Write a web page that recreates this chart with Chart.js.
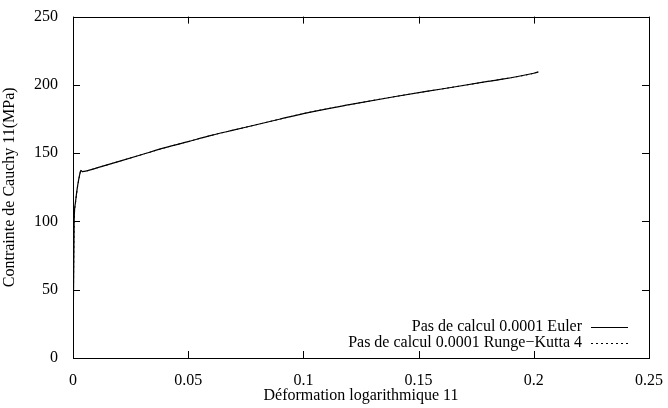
<!DOCTYPE html>
<html>
<head>
<meta charset="utf-8">
<script src="https://cdn.jsdelivr.net/npm/chart.js@4"></script>
<style>
body { margin: 0; background: #fff; }
#wrap { width: 668px; height: 408px; }
</style>
</head>
<body>
<div id="wrap"><canvas id="curve"></canvas></div>
<script>
//Data
var strainEuler = [0, 0.0005, 0.001, 0.0015, 0.002, 0.0025, 0.003, 0.0034, 0.004, 0.006, 0.01, 0.02, 0.03, 0.04, 0.05, 0.06, 0.07, 0.08, 0.09, 0.1, 0.12, 0.14, 0.16, 0.18, 0.2, 0.202];
var stressEuler = [0, 100, 113, 120, 126, 131, 135, 137.5, 136.5, 137, 139, 144, 149, 154, 158.5, 163, 167, 171, 175, 179, 185.5, 191.5, 197, 202.5, 208.5, 209.5];
var strainRK = [0, 0.0005, 0.001, 0.0015, 0.002, 0.0025, 0.003, 0.0034, 0.004, 0.006, 0.01, 0.02, 0.03, 0.04, 0.05, 0.06, 0.07, 0.08, 0.09, 0.1, 0.12, 0.14, 0.16, 0.18, 0.2, 0.202];
var stressRK = [0, 97, 112, 119.5, 125.5, 130.5, 134.5, 137.5, 136.5, 137, 139, 144, 149, 154, 158.5, 163, 167, 171, 175, 179, 185.5, 191.5, 197, 202.5, 208.5, 209.5];
var labelEuler = 'Pas de calcul 0.0001 Euler';
var labelRK = 'Pas de calcul 0.0001 Runge\u2212Kutta 4';

function toPoints(xs, ys) {
	var pts = [];
	for (var i = 0; i < xs.length; i++) {
		pts.push({x: xs[i], y: ys[i]});
	}
	return pts;
}

var FONT = '"Liberation Serif", "DejaVu Serif", serif';
var FSIZE = 16;

//gnuplot-like frame, inward ticks and key
var gnuplotLook = {
	id: 'gnuplotLook',
	afterDraw: function(chart) {
		var ctx = chart.ctx;
		var a = chart.chartArea;
		var xs = chart.scales.x, ys = chart.scales.y;
		var tl = 7;
		ctx.save();
		ctx.strokeStyle = '#000';
		ctx.lineWidth = 1;
		ctx.strokeRect(Math.round(a.left) + 0.5, Math.round(a.top) + 0.5, Math.round(a.right - a.left), Math.round(a.bottom - a.top));
		ctx.beginPath();
		xs.ticks.forEach(function(t) {
			var px = Math.round(xs.getPixelForValue(t.value)) + 0.5;
			ctx.moveTo(px, a.bottom); ctx.lineTo(px, a.bottom - tl);
			ctx.moveTo(px, a.top); ctx.lineTo(px, a.top + tl);
		});
		ys.ticks.forEach(function(t) {
			var py = Math.round(ys.getPixelForValue(t.value)) + 0.5;
			ctx.moveTo(a.left, py); ctx.lineTo(a.left + tl, py);
			ctx.moveTo(a.right, py); ctx.lineTo(a.right - tl, py);
		});
		ctx.stroke();

		//key, bottom right inside the frame
		ctx.font = FSIZE + 'px ' + FONT;
		ctx.textAlign = 'right';
		ctx.textBaseline = 'middle';
		ctx.fillStyle = '#000';
		var lineEnd = a.right - 21, lineStart = lineEnd - 37, textEnd = lineStart - 9;
		var rowY = [a.bottom - 31, a.bottom - 15];
		chart.data.datasets.forEach(function(ds, i) {
			ctx.fillText(ds.label, textEnd, rowY[i]);
			ctx.beginPath();
			ctx.setLineDash(ds.borderDash || []);
			ctx.lineWidth = ds.borderWidth;
			ctx.moveTo(lineStart, Math.round(rowY[i]) + 0.5);
			ctx.lineTo(lineEnd, Math.round(rowY[i]) + 0.5);
			ctx.stroke();
		});
		ctx.restore();
	}
};

var curvechart = new Chart(document.getElementById('curve'), {
	type: 'scatter',
	data: {
		datasets: [{
			label: labelEuler,
			data: toPoints(strainEuler, stressEuler),
			showLine: true,
			pointRadius: 0,
			borderColor: '#000',
			borderWidth: 1.2,
			cubicInterpolationMode: 'monotone'
		},{
			label: labelRK,
			data: toPoints(strainRK, stressRK),
			showLine: true,
			pointRadius: 0,
			borderColor: '#000',
			borderWidth: 1,
			borderDash: [2, 3],
			cubicInterpolationMode: 'monotone'
		}]
	},
	options: {
		responsive: true,
		maintainAspectRatio: false,
		animation: false,
		layout: {
			padding: {left: 0, top: 15, right: 17, bottom: 0}
		},
		scales: {
			x: {
				type: 'linear',
				min: 0,
				max: 0.25,
				ticks: {
					stepSize: 0.05,
					color: '#000',
					padding: 5,
					font: {family: FONT, size: FSIZE},
					callback: function(v) { return String(parseFloat(v.toFixed(4))); }
				},
				grid: {display: false},
				border: {display: false},
				title: {
					display: true,
					text: 'D\u00e9formation logarithmique 11',
					color: '#000',
					padding: {top: 0, bottom: 3},
					font: {family: FONT, size: FSIZE}
				},
				afterFit: function(s) { s.height = 50; }
			},
			y: {
				min: 0,
				max: 250,
				ticks: {
					stepSize: 50,
					color: '#000',
					padding: 7,
					font: {family: FONT, size: FSIZE}
				},
				grid: {display: false},
				border: {display: false},
				title: {
					display: true,
					text: 'Contrainte de Cauchy 11(MPa)',
					color: '#000',
					padding: {top: 0, bottom: 6},
					font: {family: FONT, size: FSIZE}
				},
				afterFit: function(s) { s.width = 73; }
			}
		},
		plugins: {
			legend: {display: false},
			tooltip: {enabled: false}
		}
	},
	plugins: [gnuplotLook]
});
</script>
</body>
</html>
